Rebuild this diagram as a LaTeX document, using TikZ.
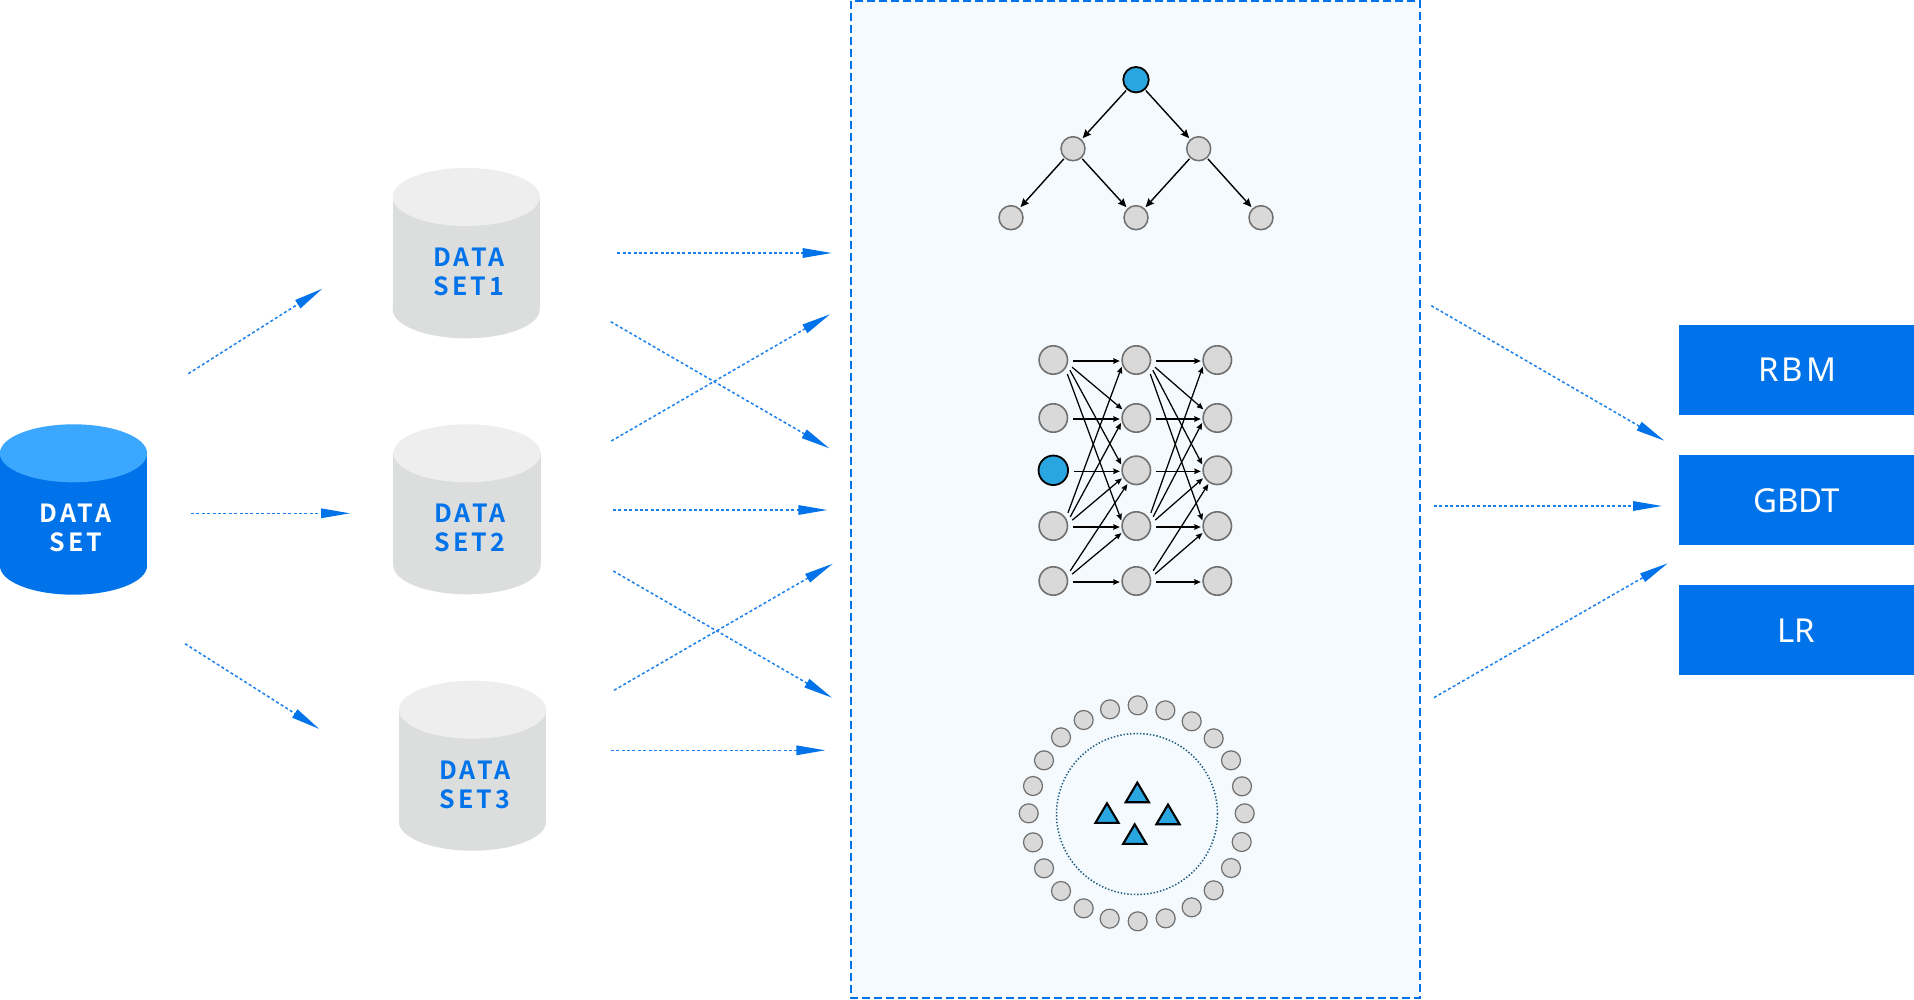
\documentclass[tikz,border=0pt]{standalone}
\usepackage{fontspec}
\usetikzlibrary{arrows.meta}
\newfontfamily\dsbold[LetterSpace=12.5]{Noto Sans CJK SC Bold}
\newfontfamily\boxfont{Noto Sans}
\newfontfamily\boxfontsp[LetterSpace=9]{Noto Sans}
\definecolor{mainblue}{HTML}{0073EA}
\definecolor{topblue}{HTML}{3BA7FF}
\definecolor{flowblue}{HTML}{1A80EE}
\definecolor{topgrey}{HTML}{EEEEEE}
\definecolor{bodygrey}{HTML}{DCDEDE}
\definecolor{panelfill}{HTML}{F4FAFE}
\definecolor{dotgrey}{HTML}{D9D9D9}
\definecolor{dotline}{HTML}{707070}
\definecolor{accent}{HTML}{29A5E0}
\definecolor{ringline}{HTML}{1C5A7D}
\tikzset{
  flow/.style={draw=flowblue,line width=1.5pt,dash pattern=on 3pt off 2.4pt,
    -{Triangle[length=29pt,width=9.5pt,color=mainblue]}},
  grey dot/.style={circle,draw=dotline,fill=dotgrey,inner sep=0pt},
  treedot/.style={grey dot,line width=1.5pt,minimum size=24pt},
  rootdot/.style={circle,draw=black,fill=accent,inner sep=0pt,line width=1.8pt,minimum size=25.5pt},
  netdot/.style={grey dot,line width=1.6pt,minimum size=28.4pt},
  netroot/.style={circle,draw=black,fill=accent,inner sep=0pt,line width=1.8pt,minimum size=29.5pt},
  ringdot/.style={grey dot,line width=1.2pt,minimum size=19pt},
  treearrow/.style={draw=black,line width=1.4pt,shorten <=1pt,shorten >=1.5pt,
    -{Stealth[length=8.5pt,width=7.5pt,inset=1pt]}},
  netarrow/.style={draw=black,line width=1.25pt,shorten <=5.5pt,shorten >=1.5pt,
    -{Stealth[length=6.5pt,width=5.5pt,inset=0.6pt]}},
  modelbox/.style={fill=mainblue,text=white,inner sep=0pt,minimum width=235pt,minimum height=90pt},
  modeltext/.style={text=white,inner sep=0pt,font=\boxfont\fontsize{33}{36}\selectfont},
  dslabel/.style={align=center,inner sep=0pt,font=\dsbold\fontsize{25}{29.5}\selectfont},
  tri/.style={draw=black,fill=accent,line width=2.1pt,line join=miter},
}
\newcommand{\drum}[6]{% name, cx, cy-top, cy-bottom, bodycolour, topcolour
  \fill[#5] (#2,#4) ellipse [x radius=73.6pt,y radius=29pt];
  \fill[#5] ({#2-73.6},#3) rectangle ({#2+73.6},#4);
  \fill[#6] (#2,#3) ellipse [x radius=73.6pt,y radius=29pt];
  \coordinate (#1) at (#2,#3);
}
\newcommand{\tritop}[2]{%
  \path[tri] ({#1},{#2+1.6}) -- ({#1-11.6},{#2+21.2}) -- ({#1+11.6},{#2+21.2}) -- cycle;
}
\begin{document}
\begin{tikzpicture}[x=1pt,y=-1pt]
\useasboundingbox (0,0) rectangle (1914,999);
\fill[white] (0,0) rectangle (1914,999);
% panel
\draw[fill=panelfill,draw=mainblue,line width=2pt,dash pattern=on 8pt off 4pt] (851,1) rectangle (1420,998);

% cylinders
\drum{ds0}{73.5}{453.3}{565.7}{mainblue}{topblue}
\drum{ds1}{466.2}{197}{309.3}{bodygrey}{topgrey}
\drum{ds2}{467}{453.3}{565.3}{bodygrey}{topgrey}
\drum{ds3}{472.5}{709.7}{821.7}{bodygrey}{topgrey}
\node[dslabel,text=white] (ds0t) at (75.7,528) {DATA\\SET};
\node[dslabel,text=mainblue] (ds1t) at (469,272) {DATA\\SET1};
\node[dslabel,text=mainblue] (ds2t) at (470,528) {DATA\\SET2};
\node[dslabel,text=mainblue] (ds3t) at (475,784.7) {DATA\\SET3};

% model boxes
\node[modelbox] (rbm) at (1796.5,370) {};
\node[modelbox] (gbdt) at (1796.5,500) {};
\node[modelbox] (lr) at (1796.5,630) {};
\node[modeltext] (rbmt) at (1797,369.5) {\boxfontsp RBM};
\node[modeltext] (gbdtt) at (1796.5,501) {GBDT};
\node[modeltext] (lrt) at (1796.5,631) {LR};

% flow connector ends
\coordinate (a1s) at (188.3,373.7); \coordinate (a1e) at (322.3,288.7);
\coordinate (a2s) at (191,513.3);   \coordinate (a2e) at (350,513.3);
\coordinate (a3s) at (185,643.7);   \coordinate (a3e) at (319.3,729);
\coordinate (b1s) at (617.3,253);   \coordinate (b1e) at (831.7,253);
\coordinate (b2s) at (611.3,441);   \coordinate (b2e) at (830,314.3);
\coordinate (b3s) at (610.7,321.7); \coordinate (b3e) at (829.3,448.3);
\coordinate (b4s) at (613,510);     \coordinate (b4e) at (827.3,510);
\coordinate (b5s) at (614,690.3);   \coordinate (b5e) at (832.7,563.7);
\coordinate (b6s) at (613.3,571);   \coordinate (b6e) at (832,697.7);
\coordinate (b7s) at (610.7,750.3); \coordinate (b7e) at (825.3,750.3);
\coordinate (c1s) at (1431.3,305.7);\coordinate (c1e) at (1664.3,440.7);
\coordinate (c2s) at (1434,506);    \coordinate (c2e) at (1662,506);
\coordinate (c3s) at (1434,697.6);  \coordinate (c3e) at (1667.7,563.3);
\foreach \f in {a1,a2,a3,b1,b2,b3,b4,b5,b6,b7,c1,c2,c3}
  \draw[flow] (\f s) -- (\f e);

% tree
\node[rootdot] (t0) at (1136,79.7) {};
\node[treedot] (t1) at (1073,148.7) {};
\node[treedot] (t2) at (1198.7,148.7) {};
\node[treedot] (t3) at (1011,217.7) {};
\node[treedot] (t4) at (1136,217.7) {};
\node[treedot] (t5) at (1261,217.7) {};
\foreach \p/\q in {t0/t1,t0/t2,t1/t3,t1/t4,t2/t4,t2/t5}
  \draw[treearrow] (\p) -- (\q);

% network
\foreach \r/\y in {1/360,2/418,3/470.3,4/526,5/581}{
  \node[netdot] (n1\r) at (1053.3,\y) {};
  \node[netdot] (n2\r) at (1136.3,\y) {};
  \node[netdot] (n3\r) at (1217.3,\y) {};
}
\node[netroot] (n13) at (1053.3,470.3) {};
\foreach \c/\d in {1/2,2/3}{
  \foreach \r in {1,...,5}
    \draw[netarrow,shorten <=5pt] ([yshift=-1pt]n\c\r.east) -- ([yshift=-1pt]n\d\r.west);
  \foreach \s/\t/\sa/\ea in {1/2/-14/149.4,1/3/-21.8/163.5,1/4/-36/164.2,
      4/1/32/201.4,4/2/17.8/194.7,4/3/9.5/208.6,5/3/22.6/237.8,5/4/13/204.3}
    \draw[netarrow] (n\c\s.\sa) -- (n\d\t.\ea);
}

% ring
\draw[ringline,line width=1.5pt,dash pattern=on 1.4pt off 1.9pt] (1137,814) circle [radius=80.5pt];
\foreach \X/\Y [count=\i] in {413/76,496/91,575/124,641/175,693/241,726/319,734/400,725/486,693/564,641/631,575/682,497/715,413/724,329/716,251/685,183/633,132/565,99/487,86/400,99/318,132/241,183/172,251/120,330/88}
  \node[ringdot] (r\i) at ({1000+\X/3},{680+\Y/3}) {};
\tritop{1137.3}{781}
\tritop{1107}{801.7}
\tritop{1168}{803}
\tritop{1134.7}{822.7}
\end{tikzpicture}
\end{document}
